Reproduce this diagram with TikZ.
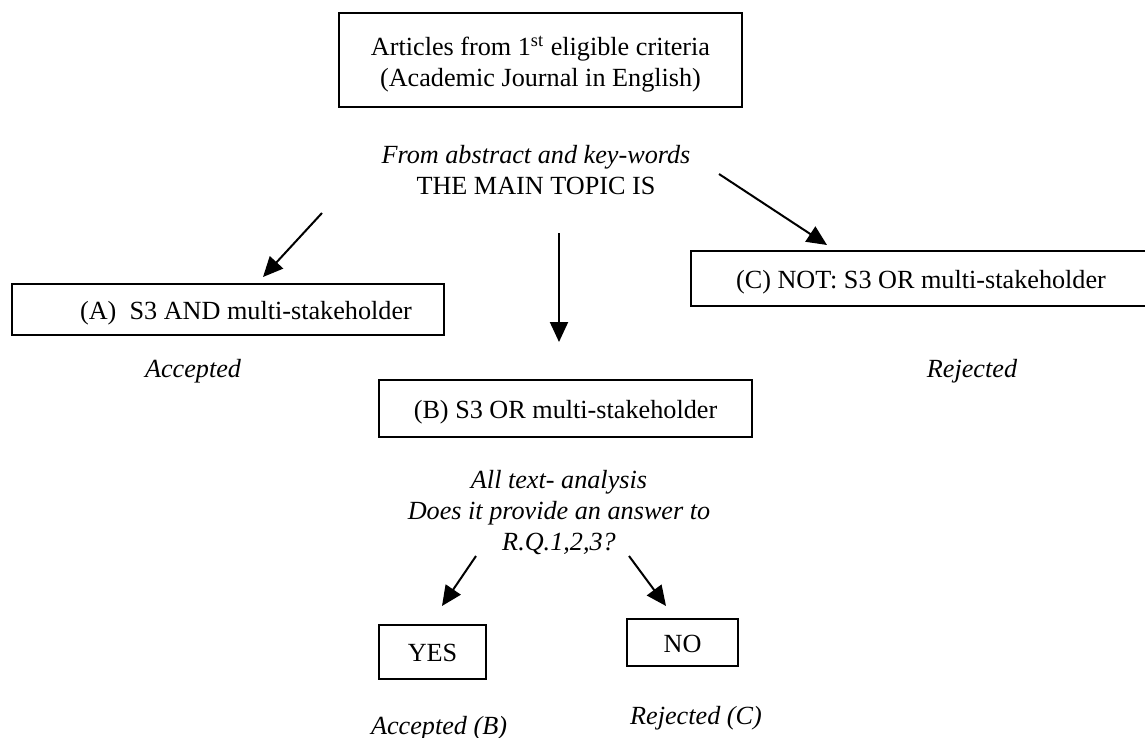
\documentclass[tikz,border=0pt]{standalone}
\usepackage{fontspec}
\setmainfont{Liberation Serif}
\usetikzlibrary{arrows.meta}
\tikzset{
	textnode/.style = {
		align=center,
		inner sep=0pt,
		text centered,
		font=\fontsize{13.1}{15.5}\selectfont
	},
	node_box/.style = {
		textnode,
		rectangle,
		draw=black,
		line width=0.6pt
	},
	node_line/.style = {
		node_box,
		text height=12.4pt,
		text depth=2.8pt
	},
	node_note/.style = {
		textnode,
		font=\fontsize{13.1}{15.5}\selectfont\itshape
	},
}

\begin{document}
\begin{tikzpicture}[x=0.5pt, y=-0.5pt, ->, >={Triangle[length=10pt,width=9pt]}, line width=1pt]
\useasboundingbox (0,0) rectangle (1145,738);
% first level
\node [node_box, minimum width=201.5pt, minimum height=47pt] (start) at (540.5,60) {\rule{0pt}{13.8pt}Articles from 1\textsuperscript{st} eligible criteria\\(Academic Journal in English)};
\node [textnode] (topic) at (536,170) {\textit{From abstract and key-words}\\THE MAIN TOPIC IS};
\node [node_line, minimum width=216pt, minimum height=25.5pt] (A) at (228,309.5) {\hspace*{18pt}(A)~~S3 AND multi-stakeholder};
\node [node_line, minimum width=230pt, minimum height=27.5pt] (C) at (921,278.5) {(C) NOT: S3 OR multi-stakeholder};
\node [node_line, minimum width=186.5pt, minimum height=28.5pt] (B) at (565.5,408.5) {(B) S3 OR multi-stakeholder};
\node [node_note] (acceptA) at (193,371) {Accepted};
\node [node_note] (rejectC) at (972,371) {Rejected};
% second level
\node [node_note] (question) at (559,512.5) {All text- analysis\\Does it provide an answer to\\R.Q.1,2,3?};
\node [node_line, minimum width=53.5pt, minimum height=27pt] (yes) at (432.5,652) {YES};
\node [node_line, minimum width=55.5pt, minimum height=23.5pt] (no) at (682.5,642.5) {NO};
\node [node_note] (acceptB) at (439,728) {Accepted (B)};
\node [node_note] (rejectC2) at (696,718) {Rejected (C)};
% arrow ends
\coordinate (a_from) at (322,213);
\coordinate (a_to) at (263,277);
\coordinate (b_from) at (559,233);
\coordinate (b_to) at (559,342);
\coordinate (c_from) at (719,174);
\coordinate (c_to) at (827,245);
\coordinate (y_from) at (476,556);
\coordinate (y_to) at (442,606);
\coordinate (n_from) at (629,556);
\coordinate (n_to) at (666,606);
\draw (a_from) -- (a_to);
\draw (b_from) -- (b_to);
\draw (c_from) -- (c_to);
\draw (y_from) -- (y_to);
\draw (n_from) -- (n_to);
\end{tikzpicture}
\end{document}
